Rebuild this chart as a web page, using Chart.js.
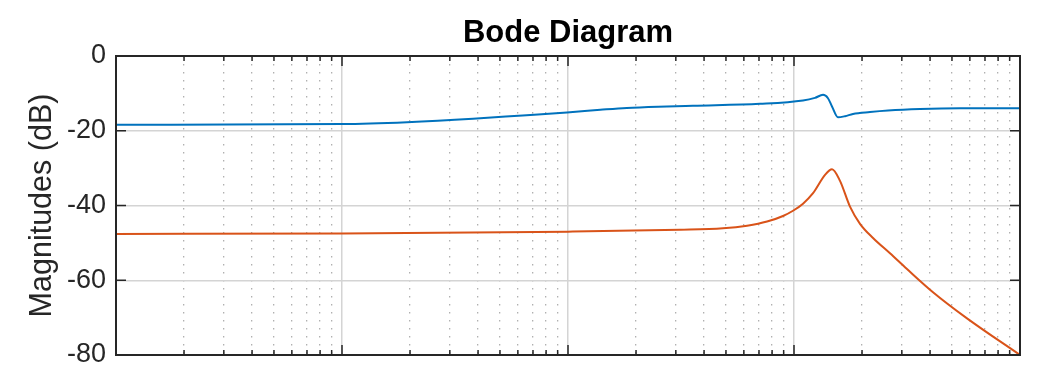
<!DOCTYPE html>
<html lang="en">
  <head>
    <meta charset="UTF-8" />
    <title>Bode Diagram</title>
    <script src="https://cdn.jsdelivr.net/npm/chart.js"></script>
    <style>
      html, body { margin: 0; padding: 0; background: #fff; }
      #wrap { width: 1056px; height: 372px; position: relative; }
    </style>
  </head>
  <body>
    <div id="wrap"><canvas id="bode"></canvas></div>

    <script>
      // frequency (log axis) and magnitude (dB)
      const freqBlue = [1, 10, 19.4, 38, 63, 99, 139, 182, 274, 357, 707, 1096, 1238, 1344, 1414, 1473, 1565, 1682, 1824, 2169, 2606, 3610, 5427, 10000];
      const magBlue = [-18.4, -18.2, -17.7, -16.8, -15.9, -15.1, -14.4, -13.9, -13.5, -13.3, -12.8, -11.9, -11.2, -10.4, -11.3, -13.5, -16.4, -16.1, -15.5, -15.0, -14.6, -14.2, -14.0, -14.0];

      const freqOrange = [1, 10, 100, 313, 485, 620, 760, 894, 990, 1096, 1214, 1372, 1473, 1598, 1769, 1959, 2237, 2659, 3162, 4121, 5829, 10000];
      const magOrange = [-47.6, -47.5, -47.0, -46.5, -46.1, -45.4, -44.3, -42.8, -41.4, -39.5, -36.7, -31.8, -30.3, -33.4, -40.3, -44.9, -48.7, -52.8, -57.0, -63.2, -70.2, -80.0];

      const decadeTicks = [1, 10, 100, 1000, 10000];
      const minorTicks = [];
      decadeTicks.slice(0, -1).forEach((d) => {
        for (let m = 2; m <= 9; m++) minorTicks.push(d * m);
      });
      const yTicks = [-80, -60, -40, -20, 0];
      const titleText = "Bode Diagram";

      const FONT = "'Liberation Sans', Arial, Helvetica, sans-serif";
      const INK = "#262626";

      // axes box, inward tick marks and the title centred over the plot
      const boxPlugin = {
        id: "box",
        afterDraw(chart) {
          const { ctx, chartArea: a, scales } = chart;
          ctx.save();
          ctx.strokeStyle = INK;
          ctx.lineWidth = 1.5;
          ctx.beginPath();
          yTicks.forEach((v) => {
            const y = scales.y.getPixelForValue(v);
            ctx.moveTo(a.left, y); ctx.lineTo(a.left + 10, y);
            ctx.moveTo(a.right, y); ctx.lineTo(a.right - 10, y);
          });
          decadeTicks.forEach((v) => {
            const x = scales.x.getPixelForValue(v);
            ctx.moveTo(x, a.bottom); ctx.lineTo(x, a.bottom - 10);
            ctx.moveTo(x, a.top); ctx.lineTo(x, a.top + 10);
          });
          minorTicks.forEach((v) => {
            const x = scales.x.getPixelForValue(v);
            ctx.moveTo(x, a.bottom); ctx.lineTo(x, a.bottom - 5);
            ctx.moveTo(x, a.top); ctx.lineTo(x, a.top + 5);
          });
          ctx.stroke();
          ctx.lineWidth = 2;
          ctx.strokeRect(a.left, a.top, a.right - a.left, a.bottom - a.top);

          ctx.fillStyle = "#000";
          ctx.font = "bold 31px " + FONT;
          ctx.textAlign = "center";
          ctx.textBaseline = "middle";
          ctx.fillText(titleText, (a.left + a.right) / 2, 33);
          ctx.restore();
        },
      };

      const toPoints = (xs, ys) => xs.map((x, i) => ({ x: x, y: ys[i] }));

      new Chart(document.getElementById("bode"), {
        type: "line",
        data: {
          datasets: [
            {
              label: "G1",
              data: toPoints(freqBlue, magBlue),
              borderColor: "#0072BD",
              borderWidth: 2,
              pointRadius: 0,
              cubicInterpolationMode: "monotone",
            },
            {
              label: "G2",
              data: toPoints(freqOrange, magOrange),
              borderColor: "#D95319",
              borderWidth: 2,
              pointRadius: 0,
              cubicInterpolationMode: "monotone",
            },
          ],
        },
        options: {
          responsive: true,
          maintainAspectRatio: false,
          animation: false,
          layout: { padding: { left: 0, right: 36, top: 56, bottom: 0 } },
          scales: {
            x: {
              type: "logarithmic",
              min: 1,
              max: 10000,
              afterBuildTicks: (s) => { s.ticks = decadeTicks.map((v) => ({ value: v })); },
              afterFit: (s) => { s.height = 17; },
              ticks: { display: false },
              grid: { color: "#d4d4d4", lineWidth: 1.5, drawTicks: false },
              border: { display: false },
            },
            x2: {
              type: "logarithmic",
              position: "bottom",
              min: 1,
              max: 10000,
              afterBuildTicks: (s) => { s.ticks = minorTicks.map((v) => ({ value: v })); },
              afterFit: (s) => { s.height = 0; },
              ticks: { display: false },
              grid: { color: "#b0b0b0", lineWidth: 1.3, drawTicks: false },
              border: { display: false, dash: [1.5, 6.5] },
            },
            y: {
              min: -80,
              max: 0,
              afterBuildTicks: (s) => { s.ticks = yTicks.map((v) => ({ value: v })); },
              afterFit: (s) => { s.width = 116; },
              ticks: {
                padding: 10,
                color: INK,
                font: { family: FONT, size: 27, lineHeight: 0.5 },
              },
              grid: { color: "#d4d4d4", lineWidth: 1.5, drawTicks: false },
              border: { display: false },
              title: {
                display: true,
                text: "Magnitudes (dB)",
                color: INK,
                font: { family: FONT, size: 30.5 },
                padding: { top: 24, bottom: 0 },
              },
            },
          },
          plugins: {
            legend: { display: false },
            tooltip: { enabled: false },
            title: { display: false },
          },
        },
        plugins: [boxPlugin],
      });
    </script>
  </body>
</html>
